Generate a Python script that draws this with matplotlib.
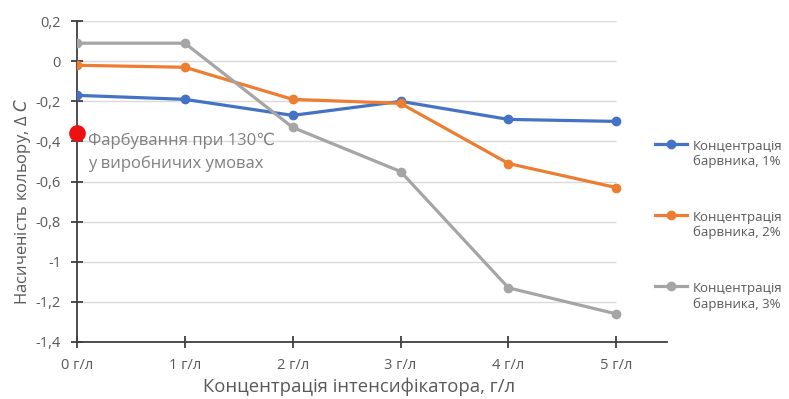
import matplotlib
matplotlib.use("Agg")
import matplotlib.pyplot as plt
from matplotlib.lines import Line2D
from matplotlib.legend_handler import HandlerLine2D

plt.rcParams['font.family'] = ['Open Sans', 'DejaVu Sans']

x_labels = ["0 г/л", "1 г/л", "2 г/л", "3 г/л", "4 г/л", "5 г/л"]
x_vals = [0, 1, 2, 3, 4, 5]
s1 = [-0.17, -0.19, -0.27, -0.20, -0.29, -0.30]
s2 = [-0.02, -0.03, -0.19, -0.21, -0.51, -0.63]
s3 = [0.09, 0.09, -0.33, -0.55, -1.13, -1.26]
names = ["Концентрація\nбарвника, 1%", "Концентрація\nбарвника, 2%", "Концентрація\nбарвника, 3%"]
colors = ["#4472c4", "#ed7d31", "#a5a5a5"]
y_ticks = [0.2, 0, -0.2, -0.4, -0.6, -0.8, -1, -1.2, -1.4]
y_tick_labels = ["0,2", "0", "-0,2", "-0,4", "-0,6", "-0,8", "-1", "-1,2", "-1,4"]
red_point = (0, -0.36)


class TopHandler(HandlerLine2D):
    def __init__(self, shift, **kw):
        super().__init__(**kw)
        self.shift = shift

    def create_artists(self, legend, orig_handle, xdescent, ydescent, width, height, fontsize, trans):
        arts = super().create_artists(legend, orig_handle, xdescent, ydescent, width, height, fontsize, trans)
        for a in arts:
            a.set_ydata([y + self.shift for y in a.get_ydata()])
        return arts


fig = plt.figure(figsize=(7.89, 3.99), dpi=100)
ax = fig.add_axes([0.0976, 0.1429, 0.7478, 0.8041])
ax.set_xlim(0, 5.47)
ax.set_ylim(-1.4, 0.2)

ax.hlines(y_ticks, 0, 5, color="#d9d9d9", lw=1, zorder=0)

for ys, c in zip([s1, s2, s3], colors):
    ax.plot(x_vals, ys, color=c, lw=2.3, marker='o', ms=6, zorder=3)

ax.plot([red_point[0]], [red_point[1]], 'o', color="#ee1111", ms=11, zorder=5, clip_on=False)
ax.text(0.1, -0.455, "Фарбування при 130℃\nу виробничих умовах", color="#808080",
        fontsize=12, va='center', ha='left', linespacing=1.5, zorder=6)

for s in ['top', 'right']:
    ax.spines[s].set_visible(False)
for s in ['left', 'bottom']:
    ax.spines[s].set_color("#404040")
    ax.spines[s].set_linewidth(1.3)

ax.set_xticks(x_vals)
ax.set_xticklabels(x_labels)
ax.set_yticks(y_ticks)
ax.set_yticklabels(y_tick_labels)
ax.tick_params(axis='both', direction='inout', length=9, width=1.3, color="#404040",
               labelcolor="#595959", labelsize=10.5)
ax.tick_params(axis='y', pad=7)
ax.tick_params(axis='x', pad=7)

ax.set_ylabel("Насиченість кольору, Δ $\\it{C}$", fontsize=12, color="#595959", labelpad=2)
ax.yaxis.label.set_y(0.436)
ax.set_xlabel("Концентрація інтенсифікатора, г/л", fontsize=13.3, color="#595959", labelpad=3)
ax.xaxis.label.set_x(0.478)

handles = [Line2D([0], [0], color=c, lw=2.3, marker='o', ms=6) for c in colors]
fig.legend(handles, names, loc='center left', bbox_to_anchor=(0.815, 0.436), frameon=False,
           fontsize=9.5, labelcolor="#595959", handlelength=2.4, handletextpad=0.45,
           labelspacing=3.25, handler_map={Line2D: TopHandler(7.5)})

fig.savefig("out.png", dpi=100)
